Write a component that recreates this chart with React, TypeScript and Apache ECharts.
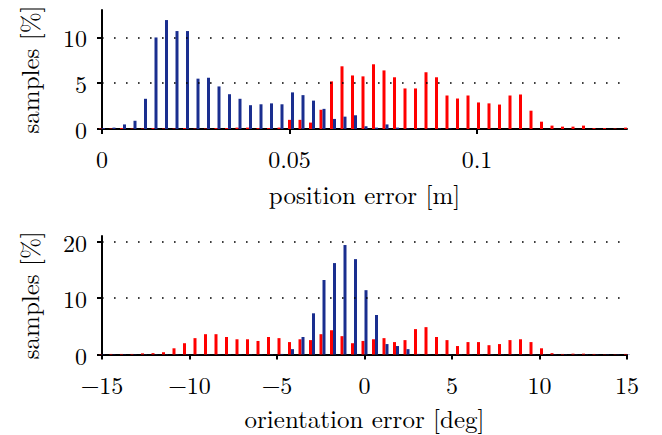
import React, { useEffect, useRef } from 'react';
import * as echarts from 'echarts';

// Position error histogram (bin centres in metres)
const posBins = [
  0, 0.0028, 0.0056, 0.0084, 0.0112, 0.014, 0.0168, 0.0196, 0.0224, 0.0252,
  0.028, 0.0308, 0.0336, 0.0364, 0.0392, 0.042, 0.0448, 0.0476, 0.0504, 0.0532,
  0.056, 0.0588, 0.0616, 0.0644, 0.0672, 0.07, 0.0728, 0.0756, 0.0784, 0.0812,
  0.084, 0.0868, 0.0896, 0.0924, 0.0952, 0.098, 0.1008, 0.1036, 0.1064, 0.1092,
  0.112, 0.1148, 0.1176, 0.1204, 0.1232, 0.126, 0.1288, 0.1316, 0.1344, 0.1372,
  0.14,
];
const posRed = [
  0.05, 0.05, 0.1, 0.05, 0.05, 0.1, 0.05, 0.05, 0.1, 0.05,
  0.05, 0.1, 0.1, 0.15, 0.15, 0.1, 0.1, 0.15, 1.0, 1.0,
  0.7, 2.1, 5.2, 6.85, 5.85, 5.75, 7.07, 6.4, 5.65, 4.43,
  4.43, 6.2, 5.65, 3.66, 3.33, 3.66, 2.9, 2.8, 2.67, 3.66,
  3.77, 2.0, 0.8, 0.37, 0.26, 0.26, 0.37, 0.1, 0.1, 0.05,
  0.15,
];
const posBlue = [
  0.1, 0.15, 0.5, 0.9, 3.3, 10.0, 11.9, 10.7, 10.7, 5.5,
  5.6, 4.65, 3.8, 3.3, 2.6, 2.7, 2.8, 2.7, 4.0, 3.7,
  3.1, 2.2, 1.1, 1.35, 1.5, 0.3, 0.15, 0.5, 0.15, 0.05,
  0.05, 0.05, 0.05, 0.05, 0, 0, 0, 0, 0, 0,
  0, 0, 0, 0, 0, 0, 0, 0, 0, 0,
  0,
];

// Orientation error histogram (bin centres in degrees)
const oriBins = [
  -15, -14.4, -13.8, -13.2, -12.6, -12, -11.4, -10.8, -10.2, -9.6,
  -9, -8.4, -7.8, -7.2, -6.6, -6, -5.4, -4.8, -4.2, -3.6,
  -3, -2.4, -1.8, -1.2, -0.6, 0, 0.6, 1.2, 1.8, 2.4,
  3, 3.6, 4.2, 4.8, 5.4, 6, 6.6, 7.2, 7.8, 8.4,
  9, 9.6, 10.2, 10.8, 11.4, 12, 12.6, 13.2, 13.8, 14.4,
  15,
];
const oriRed = [
  0.05, 0.1, 0.1, 0.1, 0.2, 0.24, 0.4, 1.1, 2.0, 2.9,
  3.6, 3.6, 3.1, 2.7, 2.7, 2.4, 3.1, 2.9, 2.2, 2.7,
  2.55, 3.6, 4.3, 3.25, 2.0, 2.4, 2.7, 2.9, 2.2, 2.55,
  4.5, 4.85, 3.1, 2.55, 1.5, 2.2, 2.2, 1.65, 1.85, 2.55,
  2.7, 2.2, 1.1, 0.24, 0.1, 0.15, 0.15, 0.1, 0.05, 0.05,
  0.1,
];
const oriBlue = [
  0.05, 0.05, 0.05, 0.05, 0.05, 0.05, 0.05, 0.05, 0.05, 0.05,
  0.05, 0.05, 0.05, 0.05, 0.05, 0.05, 0.05, 0.1, 0.95, 3.1,
  7.3, 13.2, 16.2, 19.4, 16.9, 11.4, 7.0, 1.85, 1.5, 0.95,
  0.1, 0.05, 0.05, 0.05, 0.05, 0.05, 0.05, 0.05, 0.05, 0.05,
  0.05, 0.05, 0.05, 0.05, 0.05, 0.05, 0.05, 0.05, 0.05, 0.05,
  0.05,
];

const posTicks = [0, 0.05, 0.1];
const posYTicks = [0, 5, 10];
const oriYTicks = [0, 10, 20];
const posGrid = [5, 10];
const oriGrid = [10, 20];

const RED = '#ff0000';
const BLUE = '#1a2e8f';
const FONT = 'Latin Modern Roman';

const pair = (xs: number[], ys: number[]) => xs.map((x, i) => [x, ys[i]]);

const axisLineStyle = { color: '#000', width: 2 };
const labelStyle = { fontFamily: FONT, fontSize: 24, color: '#000' };
const nameStyle = { fontFamily: FONT, fontSize: 25, color: '#000' };

export default function App() {
  const ref = useRef<HTMLDivElement>(null);
  useEffect(() => {
    const chart = echarts.init(ref.current!, null, { renderer: 'svg' });
    const gridMark = (vals: number[]) => ({
      silent: true,
      symbol: 'none',
      label: { show: false },
      lineStyle: { color: '#000', width: 1.6, type: [1.6, 10.4] as any },
      data: vals.map((v) => ({ yAxis: v })),
    });
    chart.setOption({
      animation: false,
      backgroundColor: '#fff',
      textStyle: { fontFamily: FONT },
      grid: [
        { left: 102, right: 35, top: 10, height: 119 },
        { left: 102, right: 35, top: 236, height: 118.5 },
      ],
      xAxis: [
        {
          type: 'value',
          gridIndex: 0,
          min: 0,
          max: 0.14,
          interval: 0.05,
          axisLine: { show: true, onZero: false, lineStyle: axisLineStyle },
          axisTick: { show: true, length: 5, lineStyle: { color: '#000', width: 2 }, customValues: posTicks },
          axisLabel: { ...labelStyle, margin: 17, customValues: posTicks },
          splitLine: { show: false },
          name: 'position error [m]',
          nameLocation: 'middle',
          nameGap: 52,
          nameTextStyle: { ...nameStyle },
        },
        {
          type: 'value',
          gridIndex: 1,
          min: -15,
          max: 15,
          interval: 5,
          axisLine: { show: true, onZero: false, lineStyle: axisLineStyle },
          axisTick: { show: true, length: 5, lineStyle: { color: '#000', width: 2 } },
          axisLabel: {
            ...labelStyle,
            margin: 17,
            formatter: (v: number) => String(v).replace('-', '\u2212'),
          },
          splitLine: { show: false },
          name: 'orientation error [deg]',
          nameLocation: 'middle',
          nameGap: 50,
          nameTextStyle: { ...nameStyle },
        },
      ],
      yAxis: [
        {
          type: 'value',
          gridIndex: 0,
          min: 0,
          max: 13,
          interval: 5,
          axisLine: { show: true, onZero: false, lineStyle: axisLineStyle },
          axisTick: { show: true, length: 5, lineStyle: { color: '#000', width: 2 }, customValues: posYTicks },
          axisLabel: { ...labelStyle, margin: 15, customValues: posYTicks },
          splitLine: { show: false },
          name: 'samples [%]',
          nameLocation: 'middle',
          nameGap: 61,
          nameTextStyle: { ...nameStyle },
        },
        {
          type: 'value',
          gridIndex: 1,
          min: 0,
          max: 21,
          interval: 10,
          axisLine: { show: true, onZero: false, lineStyle: axisLineStyle },
          axisTick: { show: true, length: 5, lineStyle: { color: '#000', width: 2 }, customValues: oriYTicks },
          axisLabel: { ...labelStyle, margin: 15, customValues: oriYTicks },
          splitLine: { show: false },
          name: 'samples [%]',
          nameLocation: 'middle',
          nameGap: 61,
          nameTextStyle: { ...nameStyle },
        },
      ],
      series: [
        {
          type: 'bar',
          xAxisIndex: 0,
          yAxisIndex: 0,
          data: pair(posBins, posRed),
          barWidth: 3,
          barGap: '0%',
          itemStyle: { color: RED },
          markLine: gridMark(posGrid),
        },
        {
          type: 'bar',
          xAxisIndex: 0,
          yAxisIndex: 0,
          data: pair(posBins, posBlue),
          barWidth: 3,
          barGap: '0%',
          itemStyle: { color: BLUE },
        },
        {
          type: 'bar',
          xAxisIndex: 1,
          yAxisIndex: 1,
          data: pair(oriBins, oriRed),
          barWidth: 3,
          barGap: '0%',
          itemStyle: { color: RED },
          markLine: gridMark(oriGrid),
        },
        {
          type: 'bar',
          xAxisIndex: 1,
          yAxisIndex: 1,
          data: pair(oriBins, oriBlue),
          barWidth: 3,
          barGap: '0%',
          itemStyle: { color: BLUE },
        },
      ],
    });
    return () => chart.dispose();
  }, []);
  return (
    <div
      ref={ref}
      style={{ position: 'absolute', left: 0, top: 0, width: 662, height: 435 }}
    />
  );
}
